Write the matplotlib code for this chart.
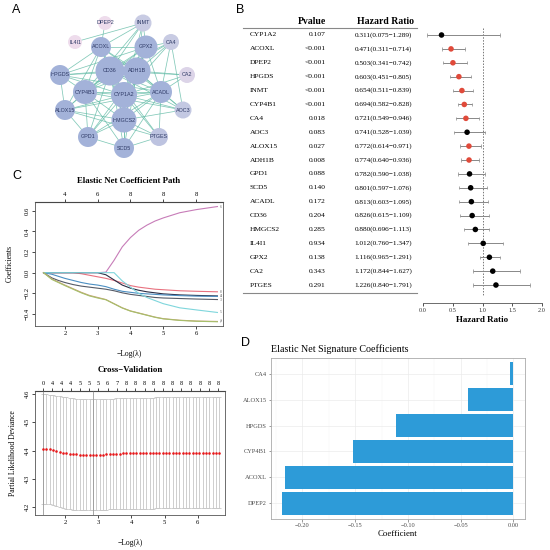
import numpy as np
import matplotlib
matplotlib.use("Agg")
import matplotlib.pyplot as plt
from matplotlib.patches import Circle

plt.rcParams['font.family'] = ['Liberation Serif', 'DejaVu Serif']

W = 550.0

# ---------------- data ----------------
# panel A: network
net_genes = ["DPEP2", "INMT", "IL4I1", "ACOXL", "GPX2", "CA4", "HPGDS", "CD36", "ADH1B", "CA2",
             "CYP4B1", "CYP1A2", "ACADL", "ALOX15", "AOC3", "HMGCS2", "GPD1", "PTGES", "SCD5"]
net_edges = [
    ("IL4I1", "INMT"), ("DPEP2", "ACOXL"),
    ("INMT", "ACOXL"), ("INMT", "GPX2"), ("INMT", "CD36"), ("INMT", "CYP4B1"), ("INMT", "ADH1B"), ("INMT", "CYP1A2"),
    ("CA4", "GPX2"), ("CA4", "ADH1B"), ("CA4", "CD36"), ("CA4", "ACADL"), ("CA4", "CYP1A2"), ("CA4", "AOC3"), ("CA4", "CYP4B1"),
    ("ACOXL", "GPX2"), ("ACOXL", "HPGDS"), ("ACOXL", "CD36"), ("ACOXL", "ADH1B"), ("ACOXL", "CYP4B1"),
    ("ACOXL", "CYP1A2"), ("ACOXL", "ACADL"), ("ACOXL", "HMGCS2"), ("ACOXL", "ALOX15"),
    ("GPX2", "CD36"), ("GPX2", "ADH1B"), ("GPX2", "CYP4B1"), ("GPX2", "CYP1A2"), ("GPX2", "ACADL"), ("GPX2", "HMGCS2"), ("GPX2", "HPGDS"),
    ("HPGDS", "CD36"), ("HPGDS", "CYP4B1"), ("HPGDS", "ALOX15"), ("HPGDS", "CYP1A2"), ("HPGDS", "ADH1B"), ("HPGDS", "ACADL"),
    ("CD36", "ADH1B"), ("CD36", "CYP4B1"), ("CD36", "CYP1A2"), ("CD36", "ACADL"), ("CD36", "HMGCS2"), ("CD36", "ALOX15"),
    ("CD36", "GPD1"), ("CD36", "SCD5"), ("CD36", "PTGES"), ("CD36", "AOC3"), ("CD36", "CA2"),
    ("ADH1B", "CYP4B1"), ("ADH1B", "CYP1A2"), ("ADH1B", "ACADL"), ("ADH1B", "HMGCS2"), ("ADH1B", "AOC3"),
    ("ADH1B", "CA2"), ("ADH1B", "GPD1"), ("ADH1B", "SCD5"),
    ("CA2", "ACADL"), ("CA2", "CYP1A2"),
    ("CYP4B1", "CYP1A2"), ("CYP4B1", "ACADL"), ("CYP4B1", "ALOX15"), ("CYP4B1", "HMGCS2"), ("CYP4B1", "GPD1"),
    ("CYP4B1", "SCD5"), ("CYP4B1", "AOC3"),
    ("CYP1A2", "ACADL"), ("CYP1A2", "HMGCS2"), ("CYP1A2", "ALOX15"), ("CYP1A2", "GPD1"), ("CYP1A2", "SCD5"),
    ("CYP1A2", "PTGES"), ("CYP1A2", "AOC3"),
    ("ACADL", "HMGCS2"), ("ACADL", "AOC3"), ("ACADL", "PTGES"), ("ACADL", "SCD5"), ("ACADL", "GPD1"), ("ACADL", "ALOX15"),
    ("ALOX15", "HMGCS2"), ("ALOX15", "GPD1"), ("ALOX15", "PTGES"),
    ("HMGCS2", "GPD1"), ("HMGCS2", "SCD5"), ("HMGCS2", "PTGES"), ("HMGCS2", "AOC3"),
    ("GPD1", "SCD5"), ("PTGES", "SCD5"),
]

# panel B: univariate cox
cox_genes = ["CYP1A2", "ACOXL", "DPEP2", "HPGDS", "INMT", "CYP4B1", "CA4", "AOC3", "ALOX15", "ADH1B",
             "GPD1", "SCD5", "ACADL", "CD36", "HMGCS2", "IL4I1", "GPX2", "CA2", "PTGES"]
cox_p = ["0.107", "<0.001", "<0.001", "<0.001", "<0.001", "<0.001", "0.018", "0.083", "0.027", "0.008",
         "0.088", "0.140", "0.172", "0.204", "0.285", "0.934", "0.138", "0.343", "0.291"]
cox_hr = [0.311, 0.471, 0.503, 0.603, 0.654, 0.694, 0.721, 0.741, 0.772, 0.774,
          0.782, 0.801, 0.813, 0.826, 0.880, 1.012, 1.116, 1.172, 1.226]
cox_lo = [0.075, 0.311, 0.341, 0.451, 0.511, 0.582, 0.549, 0.528, 0.614, 0.640,
          0.590, 0.597, 0.603, 0.615, 0.696, 0.760, 0.965, 0.844, 0.840]
cox_hi = [1.289, 0.714, 0.742, 0.805, 0.839, 0.828, 0.946, 1.039, 0.971, 0.936,
          1.038, 1.076, 1.095, 1.109, 1.113, 1.347, 1.291, 1.627, 1.791]

# panel C top: coefficient paths (-log(lambda) grid and coefficients)
path_x = [1.35, 1.6, 1.8, 2.0, 2.25, 2.5, 2.75, 3.0, 3.25, 3.5, 3.75, 4.0, 4.25, 4.5, 4.75, 5.0, 5.5, 6.0, 6.65]
path_coef = {
    "6": [0, 0, 0, 0, 0, 0, 0, 0, 0.005, 0.12, 0.25, 0.34, 0.41, 0.46, 0.50, 0.53, 0.58, 0.61, 0.64],
    "8": [0, 0, 0, 0, 0, -0.01, -0.025, -0.04, -0.055, -0.075, -0.10, -0.125, -0.14, -0.15, -0.16, -0.165, -0.175, -0.18, -0.185],
    "4": [0, 0, 0, 0, 0, 0, 0, 0, -0.02, -0.07, -0.12, -0.15, -0.17, -0.185, -0.195, -0.205, -0.215, -0.22, -0.225],
    "1": [0, -0.015, -0.035, -0.055, -0.075, -0.095, -0.11, -0.12, -0.135, -0.16, -0.18, -0.19, -0.2, -0.205, -0.21, -0.215, -0.222, -0.227, -0.23],
    "3": [0, -0.05, -0.075, -0.095, -0.115, -0.13, -0.14, -0.15, -0.16, -0.175, -0.195, -0.21, -0.22, -0.23, -0.24, -0.245, -0.25, -0.255, -0.26],
    "5": [0, 0, 0, 0, 0, 0, 0, 0, 0, 0, -0.08, -0.14, -0.2, -0.24, -0.27, -0.30, -0.34, -0.36, -0.385],
    "2": [0, -0.06, -0.09, -0.12, -0.155, -0.19, -0.22, -0.24, -0.26, -0.30, -0.34, -0.37, -0.39, -0.41, -0.43, -0.445, -0.46, -0.468, -0.472],
    "7": [0, -0.065, -0.095, -0.125, -0.16, -0.195, -0.225, -0.245, -0.262, -0.302, -0.342, -0.372, -0.392, -0.412, -0.432, -0.447, -0.462, -0.47, -0.475],
}
path_colors = {"6": "#C77CB8", "8": "#E8717F", "4": "#2B2D45", "1": "#4C8FC2",
               "3": "#555A66", "5": "#7FD6DC", "2": "#C9A074", "7": "#A6BF6B"}
path_top_at = [2, 3, 4, 5, 6]
path_top_df = ["4", "6", "8", "8", "8"]

# panel C bottom: cross-validation
cv_start, cv_stop = 1.34, 6.65
cv_mean = [4.405, 4.405, 4.404, 4.402, 4.399, 4.396, 4.393, 4.391, 4.389, 4.388,
           4.387, 4.386, 4.386, 4.385, 4.385, 4.385, 4.385, 4.386, 4.386, 4.387,
           4.388, 4.388, 4.389, 4.389, 4.390, 4.390, 4.390, 4.391, 4.391, 4.391,
           4.391, 4.391, 4.391, 4.391, 4.392, 4.392, 4.392, 4.392, 4.392, 4.392,
           4.392, 4.392, 4.392, 4.392, 4.392, 4.392, 4.392, 4.392, 4.392, 4.392,
           4.392, 4.392, 4.392, 4.392]
cv_sd = [0.194, 0.194, 0.194, 0.195, 0.195, 0.196, 0.196, 0.197, 0.197, 0.197,
         0.197, 0.197, 0.197, 0.197, 0.197, 0.197, 0.197, 0.197, 0.197, 0.197,
         0.196, 0.196, 0.196, 0.196, 0.196, 0.196, 0.196, 0.196, 0.196, 0.196,
         0.196, 0.196, 0.196, 0.196, 0.196, 0.196, 0.196, 0.196, 0.196, 0.196,
         0.196, 0.196, 0.196, 0.196, 0.196, 0.196, 0.196, 0.196, 0.196, 0.196,
         0.196, 0.196, 0.196, 0.196]
cv_top_nz = ["0", "4", "4", "4", "5", "5", "5", "6", "7", "8",
             "8", "8", "8", "8", "8", "8", "8", "8", "8", "8"]
cv_lambda_1se = 1.34
cv_lambda_min = 2.83

# panel D: signature coefficients
sig_genes = ["DPEP2", "ACOXL", "CYP4B1", "HPGDS", "ALOX15", "CA4"]
sig_coef = [-0.219, -0.217, -0.152, -0.111, -0.043, -0.003]

# ---------------- layout helpers ----------------
fig = plt.figure(figsize=(5.5, 5.5), dpi=100)


def box(x0, y0, x1, y1):
    # pixel box (top-left origin) -> figure fraction rect
    return [x0 / W, 1 - y1 / W, (x1 - x0) / W, (y1 - y0) / W]


def letter(x, y, s):
    fig.text(x / W, 1 - y / W, s, fontsize=9, family="Liberation Sans", va="center", ha="left")


letter(12, 10, "A")
letter(236, 10, "B")
letter(12, 176, "C")
letter(241, 343, "D")

# ---------------- A: network ----------------
layout = {"DPEP2": (105, 23), "INMT": (143, 23), "IL4I1": (75, 42), "ACOXL": (101, 47), "GPX2": (146, 47),
          "CA4": (171, 42), "HPGDS": (60, 75), "CD36": (110, 71), "ADH1B": (137, 71), "CA2": (187, 75),
          "CYP4B1": (85, 92), "CYP1A2": (124, 95), "ACADL": (161, 92), "ALOX15": (65, 110), "AOC3": (183, 110),
          "HMGCS2": (124, 120), "GPD1": (88, 137), "PTGES": (159, 137), "SCD5": (124, 148)}
node_r = {"DPEP2": 7, "INMT": 8.5, "IL4I1": 7, "ACOXL": 10, "GPX2": 11.5, "CA4": 8, "HPGDS": 10,
          "CD36": 14.5, "ADH1B": 13.5, "CA2": 8, "CYP4B1": 12, "CYP1A2": 13, "ACADL": 11, "ALOX15": 10,
          "AOC3": 8.5, "HMGCS2": 12.5, "GPD1": 10, "PTGES": 9, "SCD5": 10}
node_col = {"DPEP2": "#EEDCEC", "IL4I1": "#EEDCEC", "CA2": "#DCD4E8", "INMT": "#C8CBE3", "CA4": "#C8CBE3",
            "AOC3": "#C3C8E2", "PTGES": "#BDC3E0"}

axA = fig.add_axes(box(40, 8, 210, 162))
axA.set_xlim(40, 210)
axA.set_ylim(162, 8)
axA.axis("off")
for a, b in net_edges:
    (x0, y0), (x1, y1) = layout[a], layout[b]
    axA.plot([x0, x1], [y0, y1], color="#62BBA6", lw=0.55, alpha=0.8, zorder=1)
for g in net_genes:
    x, y = layout[g]
    axA.add_patch(Circle((x, y), node_r[g], facecolor=node_col.get(g, "#A3B2D9"), edgecolor="none", zorder=2))
    axA.text(x, y, g, fontsize=3.9, family="Liberation Sans", color="#2E3A66", ha="center", va="center", zorder=3)

# ---------------- B: forest table ----------------
row0, drow = 35.0, 13.89
top_px, bot_px = 15.0, 303.0
ylim_b = ((bot_px - row0) / drow, (top_px - row0) / drow)
rows = np.arange(len(cox_genes))

axT = fig.add_axes(box(240, top_px, 420, bot_px))
axT.set_xlim(0, 1)
axT.set_ylim(*ylim_b)
axT.axis("off")
axT.text(0.40, -0.95, "Pvalue", fontsize=7, fontweight="bold", ha="center", va="center")
axT.text(0.81, -0.95, "Hazard Ratio", fontsize=7, fontweight="bold", ha="center", va="center")
axT.plot([0.015, 0.985], [-0.5, -0.5], color="#888888", lw=0.8)
axT.plot([0.015, 0.985], [18.55, 18.55], color="#888888", lw=0.8)
for i, g in enumerate(cox_genes):
    axT.text(0.055, i, g, fontsize=5.4, ha="left", va="center")
    axT.text(0.475, i, cox_p[i], fontsize=5.4, ha="right", va="center")
    axT.text(0.955, i, f"{cox_hr[i]:.3f}({cox_lo[i]:.3f}\u2212{cox_hi[i]:.3f})", fontsize=5.2, ha="right", va="center")

axF = fig.add_axes(box(423, top_px, 542, bot_px))
axF.set_xlim(0, 2.0)
axF.set_ylim(*ylim_b)
for s in ["top", "right", "left"]:
    axF.spines[s].set_visible(False)
axF.spines["bottom"].set_color("#555555")
axF.spines["bottom"].set_linewidth(0.6)
axF.set_yticks([])
axF.set_xticks([0.0, 0.5, 1.0, 1.5, 2.0])
axF.set_xticklabels(["0.0", "0.5", "1.0", "1.5", "2.0"])
axF.tick_params(axis="x", labelsize=4.5, length=2, width=0.6, pad=1.5, colors="#333333")
axF.plot([1, 1], [-0.5, 18.8], color="#777777", lw=0.7, ls=(0, (1.5, 1.5)))
pt_col = ["#E04A3A" if (p.startswith("<") or float(p) < 0.05) else "black" for p in cox_p]
axF.hlines(rows, cox_lo, cox_hi, color="#888888", lw=0.7)
axF.vlines(cox_lo, rows - 0.12, rows + 0.12, color="#888888", lw=0.5)
axF.vlines(cox_hi, rows - 0.12, rows + 0.12, color="#888888", lw=0.5)
axF.scatter(cox_hr, rows, c=pt_col, s=16, zorder=3, linewidths=0)
axF.set_xlabel("Hazard Ratio", fontsize=6.5, fontweight="bold", labelpad=2)

# ---------------- C top: coefficient path ----------------
axP = fig.add_axes(box(35, 202, 223, 326))
axP.set_xlim(1.09, 6.82)
axP.set_ylim(-0.516, 0.684)
for g, vals in path_coef.items():
    axP.plot(path_x, vals, color=path_colors[g], lw=0.8)
    axP.text(6.72, vals[-1], g, fontsize=2.8, color="#666666", ha="left", va="center")
axP.set_xticks([2, 3, 4, 5, 6])
axP.set_yticks([-0.4, -0.2, 0.0, 0.2, 0.4, 0.6])
axP.set_yticklabels(["\u22120.4", "\u22120.2", "0.0", "0.2", "0.4", "0.6"], rotation=90, va="center")
axP.tick_params(labelsize=4.8, length=2, width=0.5, pad=1.5)
axP.set_xlabel("\u2212Log(\u03bb)", fontsize=5.5, labelpad=10)
axP.set_ylabel("Coefficients", fontsize=5.5, labelpad=8)
axP.set_title("Elastic Net Coefficient Path", fontsize=6.3, fontweight="bold", pad=14)
topP = axP.secondary_xaxis("top")
topP.set_xticks(path_top_at)
topP.set_xticklabels(path_top_df)
topP.tick_params(labelsize=4.8, length=2, width=0.5, pad=1.5)
for s in axP.spines.values():
    s.set_linewidth(0.6)
    s.set_color("#555555")

# ---------------- C bottom: cross-validation ----------------
cv_x = np.linspace(cv_start, cv_stop, len(cv_mean))
axC = fig.add_axes(box(35, 391, 225, 515))
axC.set_xlim(1.097, 6.82)
axC.set_ylim(4.172, 4.611)
axC.errorbar(cv_x, cv_mean, yerr=cv_sd, fmt="none", ecolor="#BBBBBB", elinewidth=0.5, capsize=1.2, capthick=0.5)
axC.scatter(cv_x, cv_mean, color="#E8181A", s=3.5, zorder=3, linewidths=0)
axC.axvline(cv_lambda_1se, color="#999999", lw=0.6)
axC.axvline(cv_lambda_min, color="#999999", lw=0.6)
axC.set_xticks([2, 3, 4, 5, 6])
axC.set_yticks([4.2, 4.3, 4.4, 4.5, 4.6])
axC.set_yticklabels(["4.2", "4.3", "4.4", "4.5", "4.6"], rotation=90, va="center")
axC.tick_params(labelsize=4.8, length=2, width=0.5, pad=1.5)
axC.set_xlabel("\u2212Log(\u03bb)", fontsize=5.5, labelpad=10)
axC.set_ylabel("Partial Likelihood Deviance", fontsize=5.5, labelpad=6)
axC.set_title("Cross\u2212Validation", fontsize=6.3, fontweight="bold", pad=14)
topC = axC.secondary_xaxis("top")
topC.set_xticks(np.linspace(cv_start, 6.62, len(cv_top_nz)))
topC.set_xticklabels(cv_top_nz)
topC.tick_params(labelsize=4.5, length=2, width=0.5, pad=1.5)
for s in axC.spines.values():
    s.set_linewidth(0.6)
    s.set_color("#555555")

# ---------------- D: signature coefficients ----------------
axD = fig.add_axes(box(271, 358, 525, 519))
yD = np.arange(1, len(sig_genes) + 1)
axD.barh(yD, sig_coef, height=0.9, color="#2D9BD8", zorder=3)
axD.set_xlim(-0.2298, 0.011)
axD.set_ylim(0.4, len(sig_genes) + 0.6)
axD.set_yticks(yD)
axD.set_yticklabels(sig_genes)
axD.set_xticks([-0.20, -0.15, -0.10, -0.05, 0.00])
axD.set_xticklabels(["\u22120.20", "\u22120.15", "\u22120.10", "\u22120.05", "0.00"])
axD.set_xticks([-0.225, -0.175, -0.125, -0.075, -0.025], minor=True)
axD.grid(True, which="major", color="#EBEBEB", lw=0.5, zorder=0)
axD.grid(True, which="minor", axis="x", color="#F4F4F4", lw=0.3, zorder=0)
axD.tick_params(which="major", labelsize=4.6, length=1.8, width=0.4, pad=1.2, colors="#4D4D4D", labelcolor="#4D4D4D")
axD.tick_params(which="minor", length=0)
for s in axD.spines.values():
    s.set_linewidth(0.6)
    s.set_color("#AAAAAA")
axD.set_xlabel("Coefficient", fontsize=6.3, labelpad=1.5)
axD.set_title("Elastic Net Signature Coefficients", fontsize=7.2, loc="left", pad=4)

fig.savefig("out.png", dpi=100)
